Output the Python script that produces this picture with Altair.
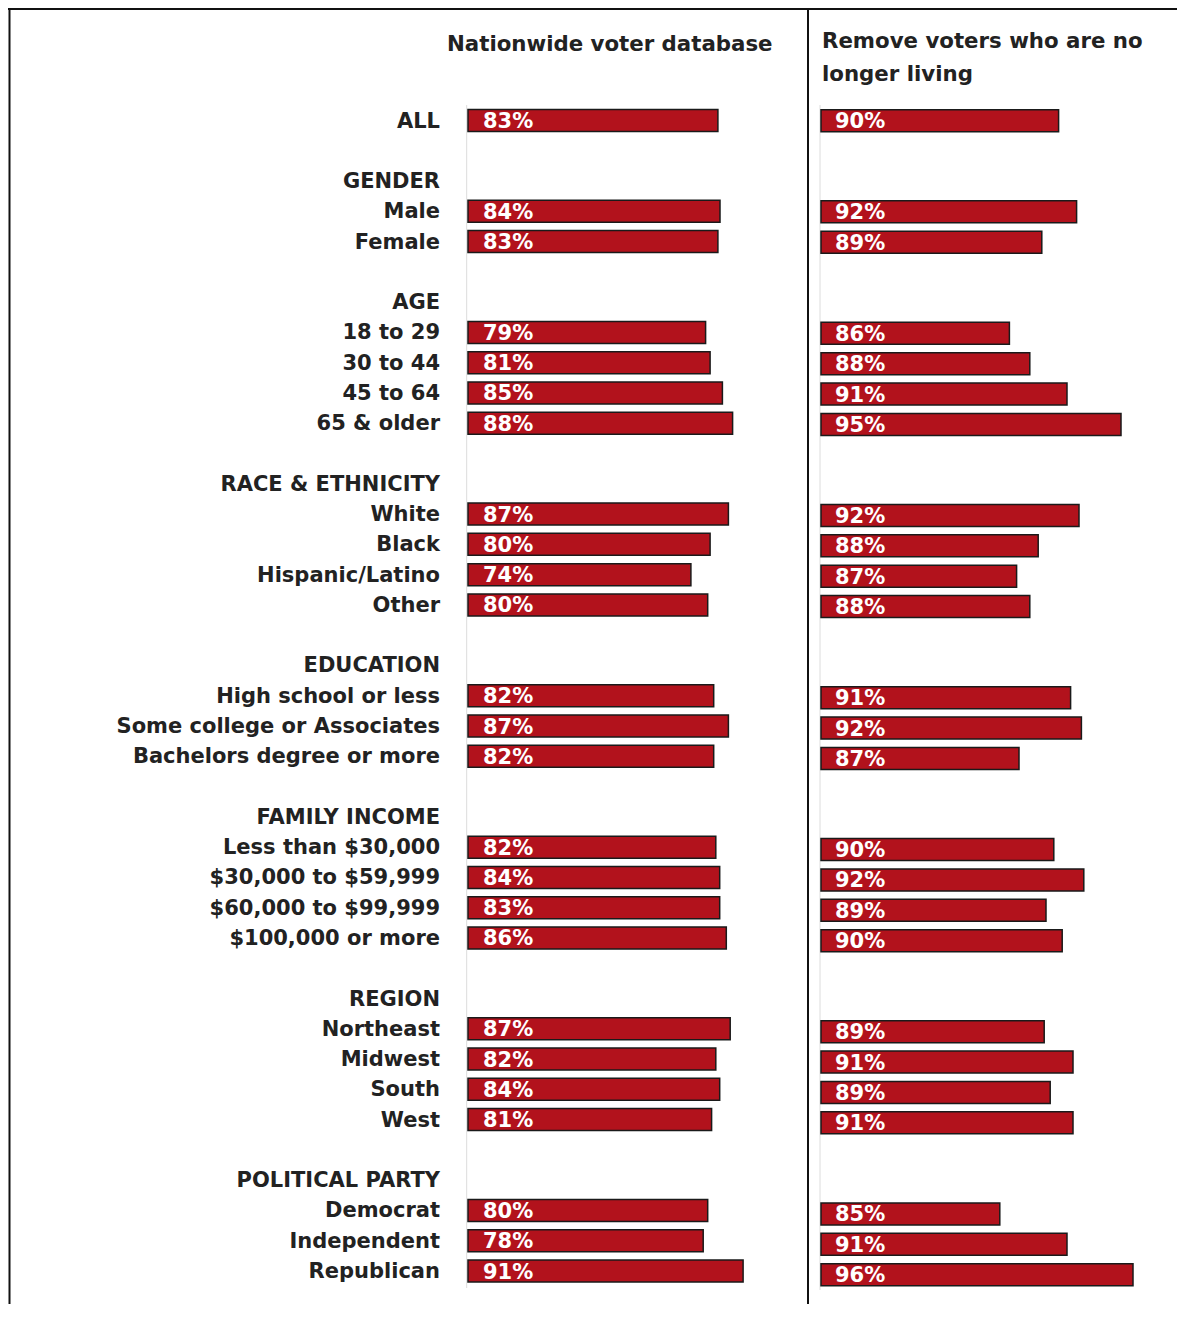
import altair as alt
import pandas as pd

# ---------------- data ----------------
rows = [
    "ALL", "",
    "GENDER", "Male", "Female", "",
    "AGE", "18 to 29", "30 to 44", "45 to 64", "65 & older", "",
    "RACE & ETHNICITY", "White", "Black", "Hispanic/Latino", "Other", "",
    "EDUCATION", "High school or less", "Some college or Associates", "Bachelors degree or more", "",
    "FAMILY INCOME", "Less than $30,000", "$30,000 to $59,999", "$60,000 to $99,999", "$100,000 or more", "",
    "REGION", "Northeast", "Midwest", "South", "West", "",
    "POLITICAL PARTY", "Democrat", "Independent", "Republican",
]

items = [
    "ALL", "Male", "Female", "18 to 29", "30 to 44", "45 to 64", "65 & older",
    "White", "Black", "Hispanic/Latino", "Other",
    "High school or less", "Some college or Associates", "Bachelors degree or more",
    "Less than $30,000", "$30,000 to $59,999", "$60,000 to $99,999", "$100,000 or more",
    "Northeast", "Midwest", "South", "West",
    "Democrat", "Independent", "Republican",
]

nationwide_pct = [83, 84, 83, 79, 81, 85, 88, 87, 80, 74, 80, 82, 87, 82,
                  82, 84, 83, 86, 87, 82, 84, 81, 80, 78, 91]
nationwide_val = [83.3, 84.0, 83.3, 79.2, 80.7, 84.8, 88.2, 86.8, 80.7, 74.3, 79.9,
                  81.9, 86.8, 81.9, 82.6, 83.9, 83.9, 86.1, 87.4, 82.6, 83.9, 81.2,
                  79.9, 78.4, 91.7]

living_pct = [90, 92, 89, 86, 88, 91, 95, 92, 88, 87, 88, 91, 92, 87,
              90, 92, 89, 90, 89, 91, 89, 91, 85, 91, 96]
living_val = [90.2, 91.7, 88.8, 86.1, 87.8, 90.9, 95.4, 91.9, 88.5, 86.7, 87.8,
              91.2, 92.1, 86.9, 89.8, 92.3, 89.15, 90.5, 89.0, 91.4, 89.5, 91.4,
              85.3, 90.9, 96.4]

titles = ["Nationwide voter database", ["Remove voters who are no", "longer living"]]

# ---------------- tables ----------------
bars = pd.DataFrame({
    "item": items,
    "row": [rows.index(n) for n in items],
    "nat": nationwide_val,
    "nat_lbl": [f"{v}%" for v in nationwide_pct],
    "liv": living_val,
    "liv_lbl": [f"{v}%" for v in living_pct],
})
labels = pd.DataFrame({
    "label": [r for r in rows if r],
    "row": [i for i, r in enumerate(rows) if r],
})
one = pd.DataFrame({"k": [0]})

FONT = "DejaVu Sans"
RED = "#B2121C"
EDGE = "#1a1a1a"
TXT = "#222222"
W, H = 1169, 1296

LX = alt.Scale(domain=[0, 100], range=[460, 760], nice=False, zero=False)
RX = alt.Scale(domain=[70.4, 100.4], range=[813, 1173], nice=False, zero=False)
LY = alt.Scale(domain=[0, 38], range=[112.5, 1263], nice=False, zero=False, padding=0)
RY = alt.Scale(domain=[0, 38], range=[112.7, 1266.7], nice=False, zero=False, padding=0)

base = alt.Chart(bars)

left_bars = base.mark_bar(size=22, fill=RED, stroke=EDGE, strokeWidth=1.5).encode(
    x=alt.X("nat:Q", scale=LX, axis=None),
    x2=alt.datum(0),
    y=alt.Y("row:Q", scale=LY, axis=None),
)
left_txt = base.mark_text(align="left", baseline="middle", dx=15, dy=1.5, font=FONT,
                          fontWeight="bold", fontSize=21, color="white").encode(
    x=alt.XDatum(0, scale=LX, axis=None),
    y=alt.Y("row:Q", scale=LY, axis=None),
    text="nat_lbl:N",
)
right_bars = base.mark_bar(size=22, fill=RED, stroke=EDGE, strokeWidth=1.5).encode(
    x=alt.X("liv:Q", scale=RX, axis=None),
    x2=alt.datum(70.4),
    y=alt.Y("row:Q", scale=RY, axis=None),
)
right_txt = base.mark_text(align="left", baseline="middle", dx=14, dy=1.5, font=FONT,
                           fontWeight="bold", fontSize=21, color="white").encode(
    x=alt.XDatum(70.4, scale=RX, axis=None),
    y=alt.Y("row:Q", scale=RY, axis=None),
    text="liv_lbl:N",
)
row_labels = alt.Chart(labels).mark_text(align="right", baseline="middle", dy=1, font=FONT,
                                         fontWeight="bold", fontSize=21, color=TXT).encode(
    x=alt.value(432),
    y=alt.Y("row:Q", scale=LY, axis=None),
    text="label:N",
)

title_l = alt.Chart(one).mark_text(text=titles[0], align="left", baseline="alphabetic",
                                   font=FONT, fontWeight="bold", fontSize=21.3, color=TXT).encode(
    x=alt.value(439), y=alt.value(43))
title_r = alt.Chart(one).mark_text(text=titles[1], align="left", baseline="alphabetic",
                                   lineHeight=33, font=FONT, fontWeight="bold", fontSize=21.3,
                                   color=TXT).encode(
    x=alt.value(814), y=alt.value(40))

# frame and faint baselines
frame_top = alt.Chart(one).mark_rule(color="#111111", strokeWidth=2).encode(
    x=alt.value(0), x2=alt.value(W), y=alt.value(1))
frame_left = alt.Chart(one).mark_rule(color="#111111", strokeWidth=2).encode(
    x=alt.value(1.5), y=alt.value(0), y2=alt.value(H))
divider = alt.Chart(one).mark_rule(color="#111111", strokeWidth=2).encode(
    x=alt.value(800), y=alt.value(0), y2=alt.value(H))
base_l = alt.Chart(one).mark_rule(color="#dcdcdc", strokeWidth=1).encode(
    x=alt.value(458.7), y=alt.value(97), y2=alt.value(1280))
base_r = alt.Chart(one).mark_rule(color="#dcdcdc", strokeWidth=1).encode(
    x=alt.value(812), y=alt.value(97), y2=alt.value(1282))

chart = alt.layer(
    frame_top, frame_left, divider, base_l, base_r,
    left_bars, right_bars, left_txt, right_txt, row_labels, title_l, title_r,
).resolve_scale(x="independent", y="independent").properties(
    width=W, height=H, padding=0, autosize=alt.AutoSizeParams(type="none"),
    background="white",
).configure_view(stroke=None)

chart.save("out.html", embed_options={"renderer": "svg", "actions": False})
